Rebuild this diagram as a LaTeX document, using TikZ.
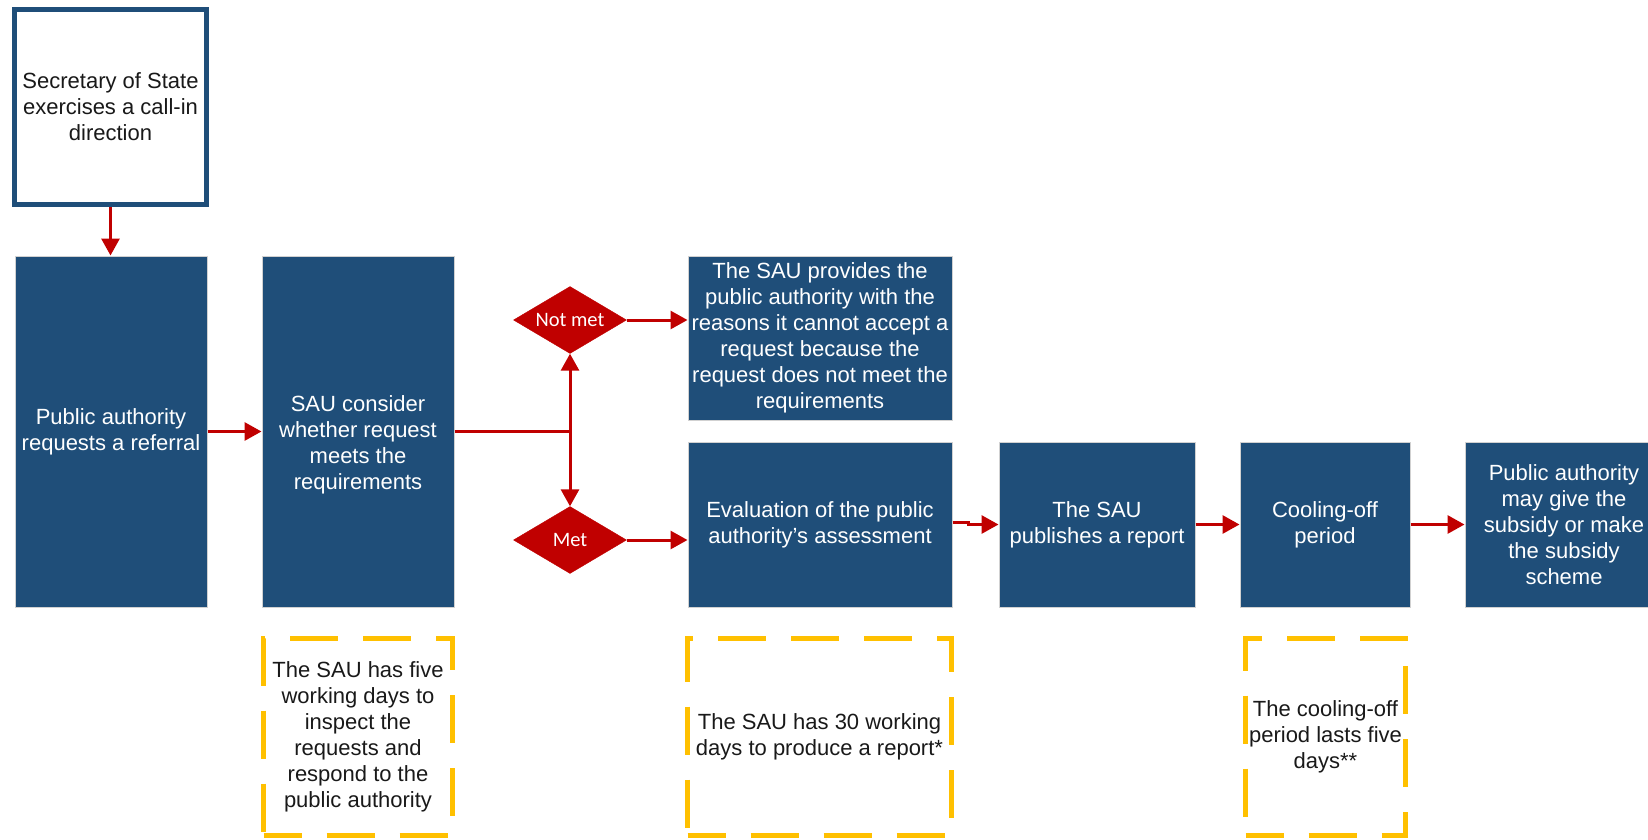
\documentclass[tikz,border=0pt]{standalone}
\usepackage{fontspec}
\setmainfont{Liberation Sans}
\newfontfamily\calfont{Carlito}
\usetikzlibrary{shapes.geometric,arrows.meta}
\definecolor{navy}{RGB}{31,78,121}
\definecolor{arrred}{RGB}{192,0,0}
\definecolor{gold}{RGB}{255,192,0}
\definecolor{txt}{RGB}{25,25,25}
\begin{document}
\begin{tikzpicture}[x=1pt,y=-1pt,
  bluebox/.style={rectangle, fill=navy, draw=black!18, line width=1pt, text=white, align=center, inner sep=0pt, font=\fontsize{22}{26}\selectfont},
  secbox/.style={rectangle, fill=white, draw=navy, line width=5.5pt, text=txt, align=center, inner sep=0pt, font=\fontsize{22}{26}\selectfont},
  notebox/.style={rectangle, draw=gold, line width=5.5pt, dash pattern=on 48pt off 25pt, dash phase=10pt, text=txt, align=center, inner sep=0pt, font=\fontsize{22}{26}\selectfont},
  decision/.style={diamond, shape aspect=1.69, fill=arrred, draw=arrred, text=white, inner sep=0pt, minimum width=113pt, minimum height=67pt, font=\calfont\fontsize{20.5}{24}\selectfont},
  arr/.style={draw=arrred, line width=3pt, -{Triangle[width=18pt,length=17pt]}},
  ln/.style={draw=arrred, line width=3pt}
]
\useasboundingbox (0,0) rectangle (1648,840);

\node[secbox, minimum width=192pt, minimum height=195pt] (sec) at (110.5,107) {Secretary of State\\exercises a call-in\\direction};

\node[bluebox, minimum width=192pt, minimum height=351pt] (b1) at (111,431.5) {Public authority\\requests a referral};
\node[bluebox, minimum width=192pt, minimum height=351pt] (b2) at (358,431.5) {};
\node[text=white, align=center, inner sep=0pt, font=\fontsize{22}{26}\selectfont] (b2t) at (358,445) {SAU consider\\whether request\\meets the\\requirements};

\node[decision] (nm) at (570,320) {Not met};
\node[decision] (met) at (570,540) {Met};

\node[bluebox, minimum width=264pt, minimum height=164pt] (prov) at (820,338) {The SAU provides the\\public authority with the\\reasons it cannot accept a\\request because the\\request does not meet the\\requirements};
\node[bluebox, minimum width=264pt, minimum height=165pt] (eval) at (820,524.5) {Evaluation of the public\\authority's assessment};
\node[bluebox, minimum width=196pt, minimum height=165pt] (pub) at (1097,524.5) {The SAU\\publishes a report};
\node[bluebox, minimum width=170pt, minimum height=165pt] (cool) at (1325,524.5) {Cooling-off\\period};
\node[bluebox, minimum width=198pt, minimum height=165pt] (fin) at (1564,524.5) {Public authority\\may give the\\subsidy or make\\the subsidy\\scheme};

\node[notebox, minimum width=189pt, minimum height=197pt] (dA) at (358,737) {The SAU has five\\working days to\\inspect the\\requests and\\respond to the\\public authority};
\node[notebox, minimum width=264pt, minimum height=197pt] (dB) at (819.5,737) {The SAU has 30 working\\days to produce a report*};
\node[notebox, minimum width=160pt, minimum height=197pt] (dC) at (1325.5,737) {The cooling-off\\period lasts five\\days**};

\draw[arr] (sec.south) -- (b1.north -| sec.south);
\draw[arr] (b1.east) -- (b2.west);
\coordinate (j) at (nm.south |- b2.east);
\draw[ln] (b2.east) -- (j);
\draw[arr] (j) -- (nm.south);
\draw[arr] (j) -- (met.north);
\draw[arr] (nm.east) -- (nm.east -| prov.west);
\draw[arr] (met.east) -- (met.east -| eval.west);
\draw[arr] ([yshift=2.5pt]eval.east) -- ++(16,0) |- (pub.west);
\draw[arr] (pub.east) -- (cool.west);
\draw[arr] (cool.east) -- (fin.west);
\end{tikzpicture}
\end{document}
